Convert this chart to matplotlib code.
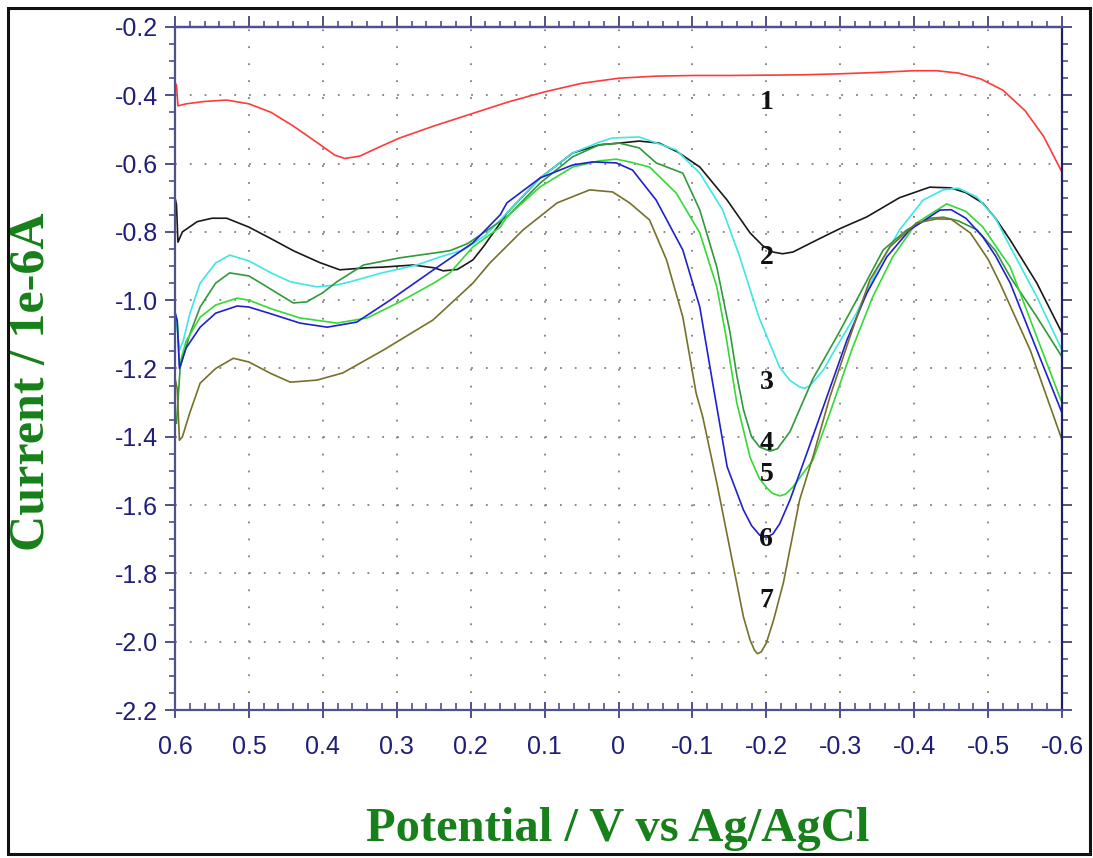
import numpy as np
import matplotlib
matplotlib.use("Agg")
import matplotlib.pyplot as plt
from matplotlib.ticker import MultipleLocator, FixedLocator, FixedFormatter
from matplotlib.patches import Rectangle

# potential (V) / current (1e-6 A)
x1 = [0.600, 0.598, 0.596, 0.585, 0.560, 0.530, 0.500, 0.470, 0.440, 0.410, 0.384, 0.370, 0.350, 0.320, 0.296, 0.250, 0.200, 0.150, 0.100, 0.050, 0.000, -0.050, -0.100, -0.150, -0.200, -0.250, -0.300, -0.350, -0.400, -0.430, -0.460, -0.490, -0.520, -0.550, -0.575, -0.600]
y1 = [-0.364, -0.370, -0.431, -0.425, -0.418, -0.414, -0.425, -0.450, -0.490, -0.535, -0.575, -0.585, -0.578, -0.548, -0.525, -0.490, -0.455, -0.420, -0.390, -0.365, -0.350, -0.344, -0.342, -0.342, -0.341, -0.340, -0.337, -0.333, -0.328, -0.328, -0.335, -0.352, -0.385, -0.445, -0.520, -0.625]

x2 = [0.600, 0.598, 0.596, 0.590, 0.570, 0.550, 0.530, 0.500, 0.470, 0.440, 0.404, 0.377, 0.340, 0.318, 0.278, 0.250, 0.237, 0.218, 0.197, 0.183, 0.160, 0.151, 0.106, 0.062, 0.026, -0.001, -0.028, -0.055, -0.080, -0.110, -0.147, -0.178, -0.195, -0.209, -0.222, -0.236, -0.268, -0.300, -0.336, -0.380, -0.421, -0.449, -0.470, -0.493, -0.510, -0.530, -0.566, -0.600]
y2 = [-0.700, -0.720, -0.830, -0.800, -0.770, -0.760, -0.760, -0.786, -0.820, -0.855, -0.890, -0.911, -0.905, -0.903, -0.897, -0.905, -0.914, -0.910, -0.882, -0.844, -0.774, -0.745, -0.642, -0.569, -0.545, -0.540, -0.534, -0.540, -0.566, -0.610, -0.707, -0.803, -0.840, -0.859, -0.864, -0.859, -0.824, -0.790, -0.756, -0.700, -0.669, -0.671, -0.685, -0.716, -0.760, -0.824, -0.950, -1.096]

x3 = [0.598, 0.594, 0.589, 0.580, 0.566, 0.545, 0.526, 0.500, 0.470, 0.444, 0.408, 0.380, 0.363, 0.320, 0.273, 0.241, 0.210, 0.180, 0.160, 0.106, 0.062, 0.026, 0.008, -0.028, -0.078, -0.110, -0.141, -0.164, -0.190, -0.218, -0.232, -0.245, -0.252, -0.259, -0.277, -0.290, -0.322, -0.350, -0.380, -0.412, -0.439, -0.460, -0.485, -0.510, -0.530, -0.566, -0.600]
y3 = [-1.060, -1.146, -1.120, -1.040, -0.950, -0.891, -0.868, -0.885, -0.920, -0.946, -0.961, -0.955, -0.946, -0.920, -0.897, -0.873, -0.853, -0.810, -0.765, -0.642, -0.569, -0.537, -0.525, -0.522, -0.560, -0.628, -0.736, -0.873, -1.050, -1.196, -1.235, -1.254, -1.258, -1.250, -1.205, -1.155, -1.038, -0.910, -0.795, -0.707, -0.677, -0.672, -0.698, -0.760, -0.844, -0.990, -1.146]

x4 = [0.598, 0.593, 0.580, 0.566, 0.545, 0.526, 0.500, 0.480, 0.462, 0.440, 0.422, 0.400, 0.381, 0.345, 0.296, 0.250, 0.228, 0.205, 0.197, 0.151, 0.106, 0.062, 0.026, -0.001, -0.028, -0.051, -0.087, -0.110, -0.133, -0.151, -0.160, -0.169, -0.180, -0.191, -0.205, -0.215, -0.232, -0.263, -0.295, -0.322, -0.358, -0.390, -0.421, -0.440, -0.460, -0.485, -0.510, -0.530, -0.566, -0.600]
y4 = [-1.360, -1.196, -1.100, -1.020, -0.950, -0.920, -0.929, -0.955, -0.979, -1.008, -1.005, -0.978, -0.946, -0.897, -0.876, -0.862, -0.855, -0.835, -0.824, -0.756, -0.657, -0.580, -0.545, -0.540, -0.554, -0.598, -0.628, -0.736, -0.903, -1.096, -1.220, -1.320, -1.400, -1.430, -1.442, -1.435, -1.385, -1.230, -1.108, -1.000, -0.853, -0.794, -0.760, -0.757, -0.768, -0.794, -0.855, -0.932, -1.049, -1.166]

x5 = [0.600, 0.597, 0.594, 0.585, 0.566, 0.545, 0.516, 0.500, 0.470, 0.431, 0.381, 0.340, 0.296, 0.250, 0.228, 0.197, 0.160, 0.151, 0.106, 0.062, 0.026, 0.003, -0.015, -0.042, -0.078, -0.110, -0.133, -0.145, -0.160, -0.178, -0.190, -0.200, -0.208, -0.218, -0.226, -0.236, -0.263, -0.286, -0.317, -0.344, -0.371, -0.403, -0.444, -0.470, -0.493, -0.510, -0.530, -0.566, -0.600]
y5 = [-1.037, -1.060, -1.190, -1.120, -1.050, -1.014, -0.994, -1.000, -1.025, -1.052, -1.067, -1.052, -1.005, -0.950, -0.920, -0.844, -0.786, -0.756, -0.668, -0.610, -0.592, -0.587, -0.595, -0.610, -0.686, -0.803, -0.961, -1.100, -1.300, -1.460, -1.520, -1.548, -1.565, -1.573, -1.568, -1.547, -1.468, -1.330, -1.137, -0.990, -0.873, -0.774, -0.718, -0.740, -0.786, -0.840, -0.903, -1.108, -1.301]

x6 = [0.600, 0.597, 0.594, 0.585, 0.566, 0.545, 0.516, 0.500, 0.470, 0.431, 0.394, 0.354, 0.309, 0.251, 0.197, 0.160, 0.151, 0.106, 0.062, 0.035, 0.003, -0.019, -0.051, -0.087, -0.110, -0.128, -0.147, -0.169, -0.180, -0.191, -0.200, -0.209, -0.218, -0.232, -0.255, -0.277, -0.309, -0.336, -0.363, -0.394, -0.435, -0.450, -0.470, -0.493, -0.510, -0.530, -0.566, -0.600]
y6 = [-1.035, -1.060, -1.200, -1.140, -1.079, -1.038, -1.017, -1.020, -1.040, -1.067, -1.079, -1.064, -1.000, -0.912, -0.832, -0.750, -0.715, -0.642, -0.604, -0.595, -0.598, -0.619, -0.707, -0.853, -1.020, -1.250, -1.488, -1.614, -1.660, -1.688, -1.695, -1.684, -1.655, -1.585, -1.447, -1.313, -1.117, -0.979, -0.873, -0.794, -0.736, -0.735, -0.760, -0.815, -0.870, -0.950, -1.146, -1.330]

x7 = [0.600, 0.597, 0.594, 0.590, 0.580, 0.566, 0.545, 0.521, 0.500, 0.470, 0.444, 0.408, 0.373, 0.318, 0.251, 0.197, 0.174, 0.129, 0.083, 0.039, 0.008, -0.015, -0.042, -0.065, -0.087, -0.105, -0.114, -0.133, -0.151, -0.169, -0.178, -0.184, -0.188, -0.193, -0.200, -0.210, -0.223, -0.245, -0.263, -0.286, -0.313, -0.340, -0.367, -0.403, -0.430, -0.450, -0.476, -0.500, -0.516, -0.557, -0.600]
y7 = [-1.228, -1.260, -1.410, -1.400, -1.330, -1.243, -1.200, -1.170, -1.181, -1.215, -1.240, -1.234, -1.213, -1.146, -1.058, -0.950, -0.891, -0.794, -0.715, -0.677, -0.683, -0.715, -0.765, -0.882, -1.049, -1.272, -1.342, -1.535, -1.731, -1.927, -1.995, -2.025, -2.035, -2.030, -2.004, -1.935, -1.828, -1.585, -1.459, -1.283, -1.108, -0.941, -0.844, -0.774, -0.762, -0.763, -0.803, -0.880, -0.950, -1.146, -1.409]

curves = [(x1, y1), (x2, y2), (x3, y3), (x4, y4), (x5, y5), (x6, y6), (x7, y7)]
colors = ['#ff3a3a', '#1a1a1a', '#3ee6e6', '#2f9a3a', '#35d935', '#2020d0', '#76702a']

# curve numbers, placed beside the cathodic peak
label_text = ['1', '2', '3', '4', '5', '6', '7']
label_y = [-0.42, -0.876, -1.24, -1.42, -1.51, -1.70, -1.88]
label_x = -0.2

x_ticks = [0.6, 0.5, 0.4, 0.3, 0.2, 0.1, 0.0, -0.1, -0.2, -0.3, -0.4, -0.5, -0.6]
x_ticklabels = ['0.6', '0.5', '0.4', '0.3', '0.2', '0.1', '0', '-0.1', '-0.2', '-0.3', '-0.4', '-0.5', '-0.6']
y_ticks = [-0.2, -0.4, -0.6, -0.8, -1.0, -1.2, -1.4, -1.6, -1.8, -2.0, -2.2]
y_ticklabels = ['-0.2', '-0.4', '-0.6', '-0.8', '-1.0', '-1.2', '-1.4', '-1.6', '-1.8', '-2.0', '-2.2']

navy = '#1f1f78'
spine_col = '#50508c'
green = '#17801a'

fig = plt.figure(figsize=(10.93, 8.58), dpi=100)
ax = fig.add_axes([175/1093, 1-710/858, 887/1093, 683/858])

# dotted grid
for xv in x_ticks[1:-1]:
    ax.axvline(xv, color='#808080', lw=1.3, dashes=(1, 8.4), zorder=0)
for yv in y_ticks[1:-1]:
    ax.axhline(yv, color='#808080', lw=1.3, dashes=(1, 7.2), zorder=0)

for (xs, ys), c in zip(curves, colors):
    ax.plot(xs, ys, color=c, lw=1.2)

for t, yv in zip(label_text, label_y):
    ax.text(label_x, yv, t, ha='center', va='center', fontsize=20,
            fontweight='bold', family='Liberation Serif', color='#111111')

ax.set_xlim(0.6, -0.6)
ax.set_ylim(-2.2, -0.2)

ax.xaxis.set_major_locator(FixedLocator(x_ticks))
ax.xaxis.set_major_formatter(FixedFormatter(x_ticklabels))
ax.xaxis.set_minor_locator(MultipleLocator(0.02))
ax.yaxis.set_major_locator(FixedLocator(y_ticks))
ax.yaxis.set_major_formatter(FixedFormatter(y_ticklabels))
ax.yaxis.set_minor_locator(MultipleLocator(0.05))

for s in ax.spines.values():
    s.set_color(spine_col)
    s.set_linewidth(1.6)
ax.spines['right'].set_color('#20206a')

ax.tick_params(axis='y', which='both', left=True, right=True, direction='out',
               color=spine_col, labelcolor=navy, labelsize=18, pad=5)
ax.tick_params(axis='y', which='major', length=7, width=1.4)
ax.tick_params(axis='y', which='minor', length=4, width=1.2)
ax.tick_params(axis='x', which='major', direction='inout', length=12, width=1.4,
               color=spine_col, labelcolor=navy, labelsize=18, pad=12)
ax.tick_params(axis='x', which='minor', direction='in', length=5, width=1.2,
               color=spine_col)
for lab in ax.get_xticklabels() + ax.get_yticklabels():
    lab.set_family('Liberation Sans')

top = ax.secondary_xaxis('top')
top.xaxis.set_major_locator(FixedLocator(x_ticks))
top.xaxis.set_minor_locator(MultipleLocator(0.02))
top.tick_params(which='major', direction='out', length=8, width=1.4,
                color=spine_col, labeltop=False)
top.tick_params(which='minor', direction='out', length=4, width=1.2,
                color=spine_col)
top.spines['top'].set_color(spine_col)
top.spines['top'].set_linewidth(1.6)

fig.text(618/1093, 1-841/858, 'Potential / V vs Ag/AgCl', ha='center', va='baseline',
         fontsize=35, fontweight='bold', family='Liberation Serif', color=green)
fig.text(32/1093, 1-382/858, 'Current / 1e-6A', ha='center', va='center', rotation=90,
         fontsize=36, fontweight='bold', family='Liberation Serif', color=green)

# frame around the whole picture
fig.patches.append(Rectangle((8/1093, 4/858), 1082/1093, 846/858, transform=fig.transFigure,
                             fill=False, edgecolor='#111111', lw=2.2))

fig.savefig('out.png', dpi=100)
